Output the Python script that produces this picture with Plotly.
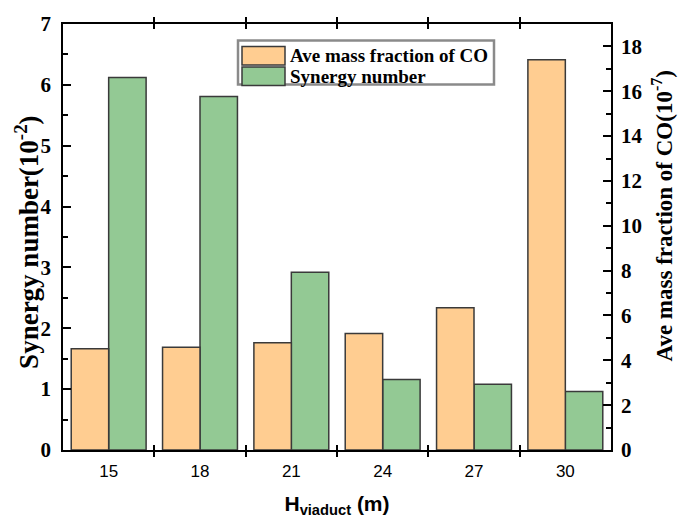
import plotly.graph_objects as go

# Viaduct heights (m)
heights = ["15", "18", "21", "24", "27", "30"]
# Average CO mass fraction (x10^-7), right axis
co_fraction = [4.52, 4.58, 4.78, 5.20, 6.35, 17.40]
# Synergy number (x10^-2), left axis
synergy = [6.12, 5.81, 2.92, 1.16, 1.08, 0.96]
# Axis tick values
left_ticks = [0, 1, 2, 3, 4, 5, 6, 7]
right_ticks = [0, 2, 4, 6, 8, 10, 12, 14, 16, 18]

ORANGE = "#FFCD91"
GREEN = "#93C994"
EDGE = "#3a3a3a"
SERIF = "Liberation Serif"
SANS = "Liberation Sans"

W, H = 686, 524
ML, MR, MT, MB = 63, 75, 18, 70

fig = go.Figure()
bw = 0.41
fig.add_trace(go.Bar(
    x=heights, y=co_fraction, yaxis="y2", name="Ave mass fraction of CO",
    marker=dict(color=ORANGE, line=dict(color=EDGE, width=1.5)),
    width=bw, offset=-bw, showlegend=False,
))
fig.add_trace(go.Bar(
    x=heights, y=synergy, yaxis="y", name="Synergy number",
    marker=dict(color=GREEN, line=dict(color=EDGE, width=1.5)),
    width=bw, offset=0, showlegend=False,
))

axis_line = dict(showline=True, linecolor="black", linewidth=1.5, showgrid=False, zeroline=False)

fig.update_layout(
    width=W, height=H,
    margin=dict(l=ML, r=MR, t=MT, b=MB, pad=0),
    plot_bgcolor="white", paper_bgcolor="white",
    xaxis=dict(
        **axis_line, type="category", range=[-0.5, 5.5],
        mirror="allticks", ticks="inside", tickson="boundaries", ticklen=5, tickwidth=1.5, tickcolor="black",
        tickfont=dict(family=SANS, size=17, color="black"),
        ticklabelstandoff=5,
        title=dict(text="<b>H<sub>viaduct</sub> (m)</b>", font=dict(family=SANS, size=21, color="black"), standoff=16),
    ),
    yaxis=dict(
        **axis_line, range=[0, 7], ticks="inside", ticklen=8, tickwidth=1.5, tickcolor="black",
        tickvals=left_ticks, ticktext=["<b>%d</b>" % v for v in left_ticks],
        minor=dict(dtick=0.5, ticks="inside", ticklen=5, tickwidth=1.5, tickcolor="black"),
        tickfont=dict(family=SERIF, size=21, color="black"),
        ticklabelstandoff=6,
    ),
    yaxis2=dict(
        **axis_line, overlaying="y", side="right", range=[0, 19],
        tickvals=right_ticks, ticktext=["<b>%d</b>" % v for v in right_ticks],
        ticks="inside", ticklen=8, tickwidth=1.5, tickcolor="black",
        minor=dict(dtick=1, ticks="inside", ticklen=5, tickwidth=1.5, tickcolor="black"),
        tickfont=dict(family=SERIF, size=21, color="black"),
        ticklabelstandoff=4,
    ),
    bargap=0.18,
)

# Pixel -> paper coordinate helpers
pw, ph = W - ML - MR, H - MT - MB
def px(x):
    return (x - ML) / pw
def py(y):
    return 1 - (y - MT) / ph

annotations = [
    dict(xref="paper", yref="paper", x=px(27), y=py(241), textangle=-90,
         xanchor="center", yanchor="middle", showarrow=False,
         text="<b>Synergy number(10<sup>-2</sup>)</b>",
         font=dict(family=SERIF, size=27, color="black")),
    dict(xref="paper", yref="paper", x=px(663), y=py(214), textangle=-90,
         xanchor="center", yanchor="middle", showarrow=False,
         text="<b>Ave mass fraction of CO(10<sup>-7</sup>)</b>",
         font=dict(family=SERIF, size=23, color="black")),
]

# Legend box with two swatches
shapes = [dict(type="rect", xref="paper", yref="paper",
               x0=px(238), x1=px(494), y0=py(80), y1=py(35),
               line=dict(color="#8a8a8a", width=2.5), fillcolor="white", layer="above")]
legend_items = [("Ave mass fraction of CO", ORANGE, 41), ("Synergy number", GREEN, 62)]
for label, color, top in legend_items:
    shapes.append(dict(type="rect", xref="paper", yref="paper",
                       x0=px(242), x1=px(285), y0=py(top + 19), y1=py(top),
                       line=dict(color=EDGE, width=1.5), fillcolor=color, layer="above"))
    annotations.append(dict(xref="paper", yref="paper", x=px(288), y=py(top + 9.5),
                            xanchor="left", yanchor="middle", showarrow=False,
                            text="<b>%s</b>" % label,
                            font=dict(family=SERIF, size=19, color="black")))
fig.update_layout(shapes=shapes, annotations=annotations)

fig.write_html("out.html")
